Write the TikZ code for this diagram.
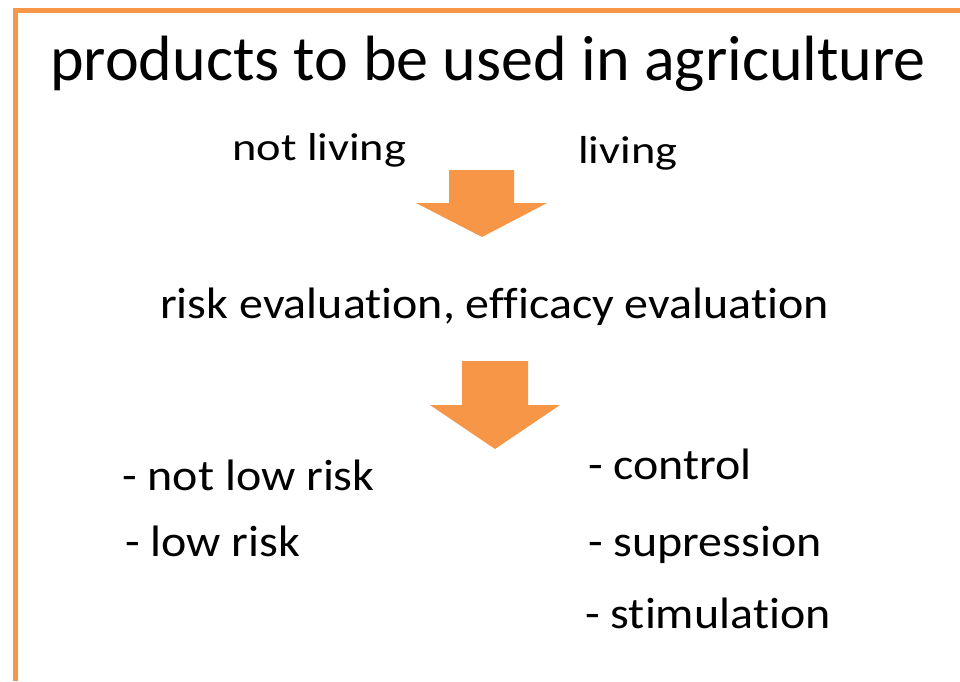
\documentclass[tikz,border=0pt]{standalone}
\usepackage{fontspec}
\setmainfont{Carlito}[Ligatures=NoCommon]
\newfontfamily\wordfont{Carlito}[Ligatures=NoCommon, FakeStretch=1.19]
\newfontfamily\listfont{Carlito}[Ligatures=NoCommon, FakeStretch=1.09]
\usepackage{tikz}
\usetikzlibrary{positioning}
\definecolor{slideorange}{HTML}{F79646}

\tikzset{
  txt/.style={anchor=base west, inner sep=0pt, text=black},
  blockarrow/.style={fill=slideorange, draw=none}
}

\begin{document}
\begin{tikzpicture}[x=1pt, y=-1pt]
\useasboundingbox (0,0) rectangle (960,681);

% Rahmen
\draw[slideorange, line width=5pt] (960,10) -- (15.5,10) -- (15.5,681);

% Titel
\node[txt, font=\fontsize{64}{70}\selectfont] (title) at (50,80) {products to be used in agriculture};

% Produktarten
\node[txt, font=\wordfont\fontsize{39}{45}\selectfont] (notliving) at (232,160) {not living};
\node[txt, font=\wordfont\fontsize{39}{45}\selectfont] (living) at (578,163) {living};

% Pfeil 1
\fill[blockarrow] (449,170) -- (514,170) -- (514,203) -- (547,203) -- (482,237)
  -- (416,203) -- (449,203) -- cycle;

% Bewertung
\node[txt, font=\listfont\fontsize{44}{50}\selectfont] (evaluation) at (160,318) {risk evaluation, efficacy evaluation};

% Pfeil 2
\fill[blockarrow] (462,361) -- (528,361) -- (528,405) -- (560,405) -- (495,449)
  -- (430,405) -- (462,405) -- cycle;

% Ergebnisse
\node[txt, font=\listfont\fontsize{44}{50}\selectfont] (notlowrisk) at (122,490) {- not low risk};
\node[txt, font=\listfont\fontsize{44}{50}\selectfont] (lowrisk) at (125,556) {- low risk};
\node[txt, font=\listfont\fontsize{44}{50}\selectfont] (control) at (588,479) {- control};
\node[txt, font=\listfont\fontsize{44}{50}\selectfont] (supression) at (588,556) {- supression};
\node[txt, font=\listfont\fontsize{44}{50}\selectfont] (stimulation) at (585,628) {- stimulation};
\end{tikzpicture}
\end{document}
